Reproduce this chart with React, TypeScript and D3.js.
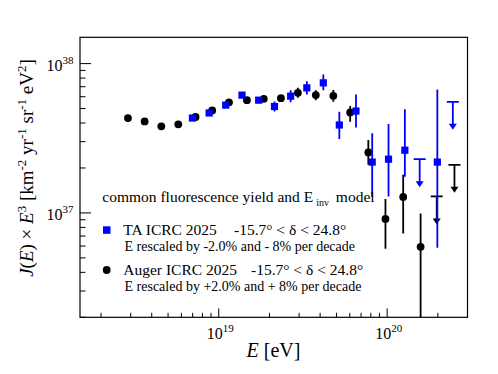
import * as d3 from 'd3';

// Auger ICRC 2025 (rescaled) — flux x E^3
const augerE = [2.89e18, 3.63e18, 4.56e18, 5.75e18, 7.28e18, 9.14e18, 1.15e19, 1.47e19, 1.85e19, 2.34e19, 2.95e19, 3.77e19, 4.79e19, 6.03e19, 7.73e19, 9.77e19, 1.245e20, 1.58e20];
const augerJ = [4.32e37, 4.10e37, 3.80e37, 3.92e37, 4.39e37, 4.86e37, 5.50e37, 5.69e37, 5.81e37, 5.87e37, 6.37e37, 6.15e37, 6.08e37, 4.71e37, 2.54e37, 9.12e36, 1.28e37, 5.93e36];
const augerLo = [4.28e37, 4.06e37, 3.76e37, 3.88e37, 4.34e37, 4.80e37, 5.42e37, 5.58e37, 5.66e37, 5.60e37, 5.90e37, 5.69e37, 5.55e37, 4.08e37, 2.10e37, 5.75e36, 7.28e36, 1e36];
const augerHi = [4.36e37, 4.14e37, 3.84e37, 3.96e37, 4.44e37, 4.92e37, 5.58e37, 5.80e37, 5.96e37, 6.14e37, 6.88e37, 6.64e37, 6.66e37, 5.21e37, 3.08e37, 1.24e37, 1.80e37, 9.9e36];
const augerUlE = [1.97e20, 2.51e20];
const augerUlJ = [1.29e37, 2.10e37];

// TA ICRC 2025 (rescaled)
const taE = [6.98e18, 8.77e18, 1.10e19, 1.374e19, 1.726e19, 2.143e19, 2.673e19, 3.334e19, 4.178e19, 5.2e19, 6.53e19, 8.15e19, 1.019e20, 1.274e20, 1.986e20];
const taJ = [4.32e37, 4.67e37, 5.27e37, 6.15e37, 5.69e37, 5.16e37, 6.05e37, 6.88e37, 7.43e37, 3.88e37, 4.81e37, 2.19e37, 2.29e37, 2.63e37, 2.19e37];
const taLo = [4.26e37, 4.60e37, 5.18e37, 6.04e37, 5.58e37, 4.78e37, 5.52e37, 6.21e37, 6.64e37, 3.13e37, 3.74e37, 1.28e37, 1.29e37, 1.75e37, 5.84e36];
const taHi = [4.38e37, 4.74e37, 5.36e37, 6.26e37, 5.80e37, 5.57e37, 6.63e37, 7.62e37, 8.45e37, 4.75e37, 6.21e37, 3.41e37, 3.94e37, 4.95e37, 6.71e37];
const taUlE = [1.56e20, 2.455e20];
const taUlJ = [2.29e37, 5.55e37];

const xDomain = [1.5e18, 3e20];
const yDomain = [2e36, 1.5e38];
const xLabels = [1e19, 1e20];
const yLabels = [1e37, 1e38];

const W = 498;
const H = 374;
const m = { top: 37.3, right: 30.5, bottom: 56.7, left: 80 };
const serif = '"Liberation Serif", "DejaVu Serif", serif';
const BLUE = '#0000ff';

function UpperLimit({ cx, cy, color }: { cx: number; cy: number; color: string }) {
  const len = 28;
  return (
    <g stroke={color} fill={color}>
      <line x1={cx - 6} x2={cx + 6} y1={cy} y2={cy} strokeWidth={1.8} />
      <line x1={cx} x2={cx} y1={cy} y2={cy + len - 4} strokeWidth={1.8} />
      <path d={`M${cx - 4},${cy + len - 6}L${cx + 4},${cy + len - 6}L${cx},${cy + len}Z`} stroke="none" />
    </g>
  );
}

export default function App() {
  const x = d3.scaleLog().domain(xDomain).range([m.left, W - m.right]);
  const y = d3.scaleLog().domain(yDomain).range([H - m.bottom, m.top]);
  const x0 = m.left, x1 = W - m.right, y0 = H - m.bottom, y1 = m.top;

  const xTicks = x.ticks();
  const yTicks = y.ticks();
  const isMajor = (v: number) => Math.abs(Math.log10(v) - Math.round(Math.log10(v))) < 1e-6;

  return (
    <svg width={W} height={H} style={{ position: 'absolute', left: 0, top: 0, background: '#fff' }} fontFamily={serif}>
      <defs>
        <clipPath id="plot">
          <rect x={x0} y={y1} width={x1 - x0} height={y0 - y1} />
        </clipPath>
      </defs>

      {/* frame */}
      <rect x={x0} y={y1} width={x1 - x0} height={y0 - y1} fill="none" stroke="#000" strokeWidth={1.2} />

      {/* x ticks */}
      {xTicks.map((t, i) => (
        <line key={'xt' + i} x1={x(t)} x2={x(t)} y1={y0} y2={y0 - (isMajor(t) ? 9 : 4.5)} stroke="#000" strokeWidth={1} />
      ))}
      {xLabels.map((t, i) => (
        <text key={'xl' + i} x={x(t) - 12} y={339} fontSize={16}>
          10<tspan dy={-7} fontSize={11}>{Math.round(Math.log10(t))}</tspan>
        </text>
      ))}

      {/* y ticks */}
      {yTicks.map((t, i) => (
        <line key={'yt' + i} x1={x0} x2={x0 + (isMajor(t) ? 11 : 5.5)} y1={y(t)} y2={y(t)} stroke="#000" strokeWidth={1} />
      ))}
      {yLabels.map((t, i) => (
        <text key={'yl' + i} x={46.5} y={y(t) + 7} fontSize={16}>
          10<tspan dy={-7} fontSize={11}>{Math.round(Math.log10(t))}</tspan>
        </text>
      ))}

      {/* axis titles */}
      <text x={273.5} y={356.5} fontSize={20} textAnchor="middle">
        <tspan fontStyle="italic">E</tspan> [eV]
      </text>
      <text transform="translate(33,168) rotate(-90)" fontSize={19} textAnchor="middle">
        <tspan fontStyle="italic">J</tspan>(<tspan fontStyle="italic">E</tspan>) × <tspan fontStyle="italic">E</tspan>
        <tspan dy={-7} fontSize={13}>3</tspan>
        <tspan dy={7}> [km</tspan>
        <tspan dy={-7} fontSize={13}>-2</tspan>
        <tspan dy={7}> yr</tspan>
        <tspan dy={-7} fontSize={13}>-1</tspan>
        <tspan dy={7}> sr</tspan>
        <tspan dy={-7} fontSize={13}>-1</tspan>
        <tspan dy={7}> eV</tspan>
        <tspan dy={-7} fontSize={13}>2</tspan>
        <tspan dy={7}>]</tspan>
      </text>

      <g clipPath="url(#plot)">
        {/* Auger */}
        {augerE.map((e, i) => (
          <line key={'ae' + i} x1={x(e)} x2={x(e)} y1={y(augerLo[i])} y2={y(augerHi[i])} stroke="#000" strokeWidth={1.8} />
        ))}
        {augerE.map((e, i) => (
          <circle key={'ap' + i} cx={x(e)} cy={y(augerJ[i])} r={3.9} fill="#000" />
        ))}
        {augerUlE.map((e, i) => (
          <UpperLimit key={'au' + i} cx={x(e)} cy={y(augerUlJ[i])} color="#000" />
        ))}

        {/* TA */}
        {taE.map((e, i) => (
          <line key={'te' + i} x1={x(e)} x2={x(e)} y1={y(taLo[i])} y2={y(taHi[i])} stroke={BLUE} strokeWidth={1.8} />
        ))}
        {taE.map((e, i) => (
          <rect key={'tp' + i} x={x(e) - 3.6} y={y(taJ[i]) - 3.6} width={7.2} height={7.2} fill={BLUE} />
        ))}
        {taUlE.map((e, i) => (
          <UpperLimit key={'tu' + i} cx={x(e)} cy={y(taUlJ[i])} color={BLUE} />
        ))}
      </g>

      {/* legend */}
      <text x={102.3} y={201.5} fontSize={15.5}>
        common fluorescence yield and E<tspan dx={3} dy={4} fontSize={10}>inv</tspan>
        <tspan dx={3} dy={-4}> model</tspan>
      </text>
      <rect x={103} y={226.3} width={7.5} height={7.5} fill={BLUE} />
      <text x={123.3} y={234.5} fontSize={15.5}>TA ICRC 2025</text>
      <text x={234} y={234.5} fontSize={15.5}>-15.7° &lt; δ &lt; 24.8°</text>
      <text x={124.5} y={250.5} fontSize={14}>E rescaled by -2.0% and - 8% per decade</text>
      <circle cx={106.7} cy={270} r={3.9} fill="#000" />
      <text x={123.3} y={274.5} fontSize={15.5}>Auger ICRC 2025</text>
      <text x={251} y={274.5} fontSize={15.5}>-15.7° &lt; δ &lt; 24.8°</text>
      <text x={124.5} y={291} fontSize={14}>E rescaled by +2.0% and + 8% per decade</text>
    </svg>
  );
}
